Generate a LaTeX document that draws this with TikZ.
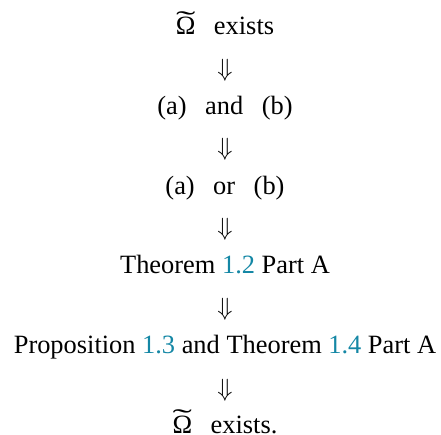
\documentclass[tikz,border=0pt]{standalone}
\usepackage{fontspec}
\setmainfont{Liberation Serif}
\definecolor{refblue}{RGB}{20,135,165}
\newcommand{\rf}[1]{\textcolor{refblue}{#1}}
\newcommand{\tOmega}{\leavevmode\ooalign{\char"03A9\cr\hidewidth\raisebox{0.2em}{\scalebox{2.2}[1.0]{\char"02DC}}\hidewidth\cr}}
\begin{document}
\begin{tikzpicture}[x=1pt,y=1pt,
  txt/.style={anchor=base,inner sep=0pt,font=\fontsize{26.4}{30}\selectfont},
  arr/.style={anchor=center,inner sep=0pt,font=\fontsize{26.4}{30}\selectfont}]
\useasboundingbox (0,0) rectangle (441,-435);
\def\cx{225}
\node[txt] (l1) at (\cx,-35) {\tOmega\hspace{0.45em} exists};
\node[arr] (a1) at (\cx,-70) {$\Downarrow$};
\node[txt] (l2) at (\cx,-114.6) {(a)\hspace{0.45em} and\hspace{0.45em} (b)};
\node[arr] (a2) at (\cx,-149.6) {$\Downarrow$};
\node[txt] (l3) at (\cx,-194.2) {(a)\hspace{0.45em} or\hspace{0.45em} (b)};
\node[arr] (a3) at (\cx,-229.2) {$\Downarrow$};
\node[txt] (l4) at (\cx,-273.8) {Theorem \rf{1.2} Part A};
\node[arr] (a4) at (\cx,-308.8) {$\Downarrow$};
\node[txt] (l5) at (\cx,-353.4) {Proposition \rf{1.3} and Theorem \rf{1.4} Part A};
\node[arr] (a5) at (\cx,-390) {$\Downarrow$};
\node[txt] (l6) at (\cx,-433) {\tOmega\hspace{0.45em} exists.};
\end{tikzpicture}
\end{document}
